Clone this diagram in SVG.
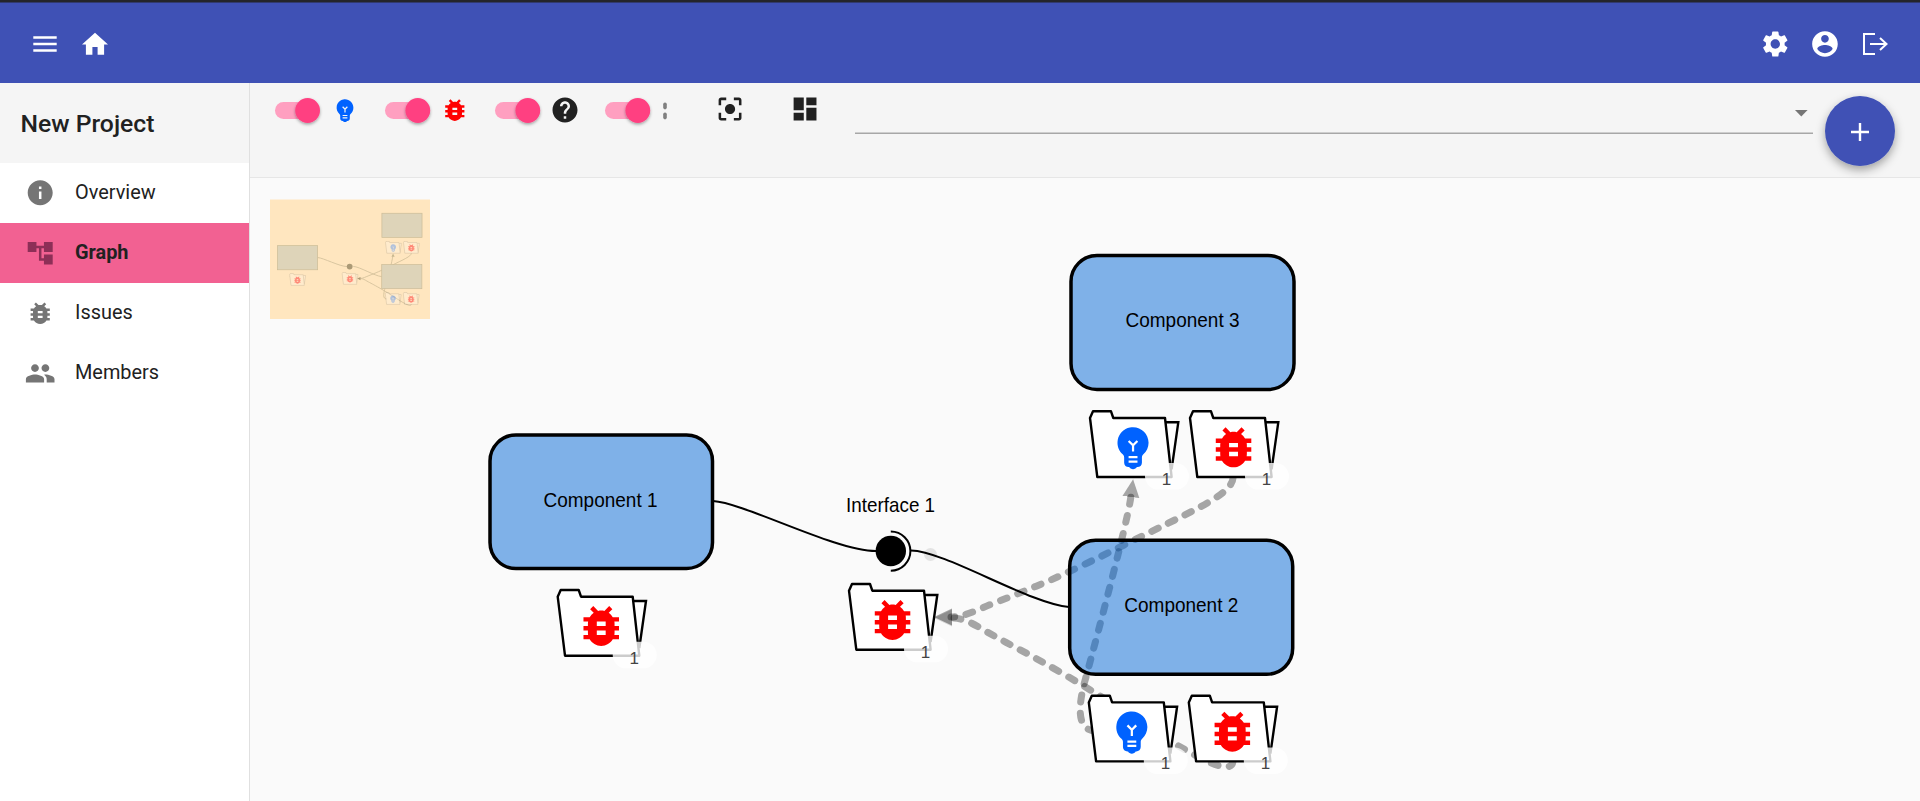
<svg xmlns="http://www.w3.org/2000/svg" xmlns:xlink="http://www.w3.org/1999/xlink" width="1920" height="801" viewBox="0 0 1920 801">
<style>
.nav{font-family:Roboto,"Liberation Sans",sans-serif;font-size:19.9px;fill:#212121}
.lbl{font-family:"Liberation Sans",Arial,sans-serif;font-size:21px;fill:#000;text-anchor:middle}
.cnt{font-family:"Liberation Sans",Arial,sans-serif;font-size:17px;fill:#444;text-anchor:middle}
.comp{fill:#0468d6;fill-opacity:.5;stroke:#000;stroke-width:3.5}
.wire{fill:none;stroke:#000;stroke-width:2}
.dash{fill:none;stroke:#000;stroke-opacity:.34;stroke-width:7;stroke-dasharray:7 11.5;stroke-linecap:round}
.track{fill:#ff9fc0}
.thumb{fill:#ff4081;filter:url(#sh)}
.gi{fill:#757575}
.wi{fill:#fff}
.ki{fill:#212121}
.badge{fill:#fff;fill-opacity:.8}
.mrect{fill:#ded4b9;stroke:#cdbd98;stroke-width:4}
.mwire{fill:none;stroke:#d5c29c;stroke-width:5}
</style>
<defs>
<filter id="sh" x="-50%" y="-50%" width="200%" height="200%"><feDropShadow dx="0" dy="1.5" stdDeviation="1.5" flood-color="#000" flood-opacity=".35"/></filter>
<filter id="fabsh" x="-30%" y="-30%" width="160%" height="160%"><feDropShadow dx="0" dy="4" stdDeviation="5" flood-color="#000" flood-opacity=".35"/></filter>
<filter id="mblur" x="-5%" y="-5%" width="110%" height="110%"><feGaussianBlur stdDeviation=".5"/></filter>
<marker id="arr" markerUnits="userSpaceOnUse" markerWidth="19" markerHeight="18" viewBox="0 0 19 18" refX="1" refY="9" orient="auto"><path d="M0 .5L18 9L0 17.5Z" fill="#000" fill-opacity=".34"/></marker>
<marker id="arr2" markerUnits="userSpaceOnUse" markerWidth="19" markerHeight="18" viewBox="0 0 19 18" refX="1" refY="9" orient="auto"><path d="M0 .5L18 9L0 17.5Z" fill="#000" fill-opacity=".14"/></marker>
<path id="bug" d="M20 8h-2.81c-.45-.78-1.07-1.45-1.82-1.96L17 4.41 15.59 3l-2.17 2.17C12.96 5.06 12.49 5 12 5c-.49 0-.96.06-1.41.17L8.41 3 7 4.41l1.62 1.63C7.88 6.55 7.26 7.22 6.81 8H4v2h2.09c-.05.33-.09.66-.09 1v1H4v2h2v1c0 .34.04.67.09 1H4v2h2.81c1.04 1.79 2.97 3 5.19 3s4.15-1.21 5.19-3H20v-2h-2.09c.05-.33.09-.66.09-1v-1h2v-2h-2v-1c0-.34-.04-.67-.09-1H20V8zm-6 8h-4v-2h4v2zm0-4h-4v-2h4v2z"/>
<path id="bulb" d="M12 3c-.46 0-.93.04-1.4.14-2.76.53-4.96 2.76-5.48 5.52-.48 2.61.48 5.01 2.22 6.56.43.38.66.91.66 1.47V19c0 1.1.9 2 2 2h.28c.35.6.98 1 1.72 1s1.38-.4 1.72-1H14c1.1 0 2-.9 2-2v-2.31c0-.55.22-1.09.64-1.46C18.09 13.95 19 12.08 19 10c0-3.87-3.13-7-7-7zm2 16h-4v-1h4v1zm0-2h-4v-1h4v1zm-1.5-5.59V14h-1v-2.59L9.67 9.59l.71-.71L12 10.5l1.62-1.62.71.71-1.83 1.82z"/>
<g id="frame">
<path d="M76 11H88.3L81.6 58" fill="#fff" stroke="#000" stroke-width="2.4"/>
<path d="M0 6.7L3 0H21L23.3 6.7H75L81.6 65.7H7.3Z" fill="#fff" stroke="#000" stroke-width="2.4" stroke-linejoin="round"/>
</g>
<g id="count"><rect class="badge" x="55" y="51.7" width="44" height="26.6" rx="13.3"/><text class="cnt" x="76.6" y="73.6">1</text></g>
<g id="fbug"><use href="#frame"/><use href="#bug" fill="#f00" transform="translate(16.9 9.4) scale(2.22)"/><use href="#count"/></g>
<g id="fbulb"><use href="#frame"/><use href="#bulb" fill="#0062ff" transform="translate(16.4 9.2) scale(2.22)"/><use href="#count"/></g>
<g id="mfbug"><use href="#frame" opacity=".2"/><use href="#bug" fill="#f00" opacity=".42" transform="translate(16.9 9.4) scale(2.22)"/></g>
<g id="mfbulb"><use href="#frame" opacity=".2"/><use href="#bulb" fill="#0062ff" opacity=".3" transform="translate(16.4 9.2) scale(2.22)"/></g>
</defs>

<rect width="1920" height="801" fill="#fafafa"/>

<g id="appbar">
<rect width="1920" height="83" fill="#3f51b5"/>
<rect width="1920" height="2.5" fill="#24252b"/>
<path class="wi" transform="translate(29.4 28.4) scale(1.3)" d="M3 18h18v-2H3v2zm0-5h18v-2H3v2zm0-7v2h18V6H3z"/>
<path class="wi" transform="translate(79.4 28.8) scale(1.3)" d="M10 20v-6h4v6h5v-8h3L12 3 2 12h3v8z"/>
<path class="wi" transform="translate(1759.7 28.4) scale(1.3)" d="M19.14 12.94c.04-.3.06-.61.06-.94 0-.32-.02-.64-.07-.94l2.03-1.58c.18-.14.23-.41.12-.61l-1.92-3.32c-.12-.22-.37-.29-.59-.22l-2.39.96c-.5-.38-1.03-.7-1.62-.94l-.36-2.54c-.04-.24-.24-.41-.48-.41h-3.84c-.24 0-.43.17-.47.41l-.36 2.54c-.59.24-1.13.57-1.62.94l-2.39-.96c-.22-.08-.47 0-.59.22L2.74 8.87c-.12.21-.08.47.12.61l2.03 1.58c-.05.3-.09.63-.09.94s.02.64.07.94l-2.03 1.58c-.18.14-.23.41-.12.61l1.92 3.32c.12.22.37.29.59.22l2.39-.96c.5.38 1.03.7 1.62.94l.36 2.54c.05.24.24.41.48.41h3.84c.24 0 .44-.17.47-.41l.36-2.54c.59-.24 1.13-.56 1.62-.94l2.39.96c.22.08.47 0 .59-.22l1.92-3.32c.12-.22.07-.47-.12-.61l-2.01-1.58zM12 15.6c-1.98 0-3.6-1.62-3.6-3.6s1.62-3.6 3.6-3.6 3.6 1.62 3.6 3.6-1.62 3.6-3.6 3.6z"/>
<path class="wi" transform="translate(1809.6 28.6) scale(1.28)" d="M12 2C6.48 2 2 6.48 2 12s4.48 10 10 10 10-4.48 10-10S17.52 2 12 2zm0 3c1.66 0 3 1.34 3 3s-1.34 3-3 3-3-1.34-3-3 1.34-3 3-3zm0 14.2c-2.5 0-4.71-1.28-6-3.22.03-1.99 4-3.08 6-3.08 1.99 0 5.97 1.09 6 3.08-1.29 1.94-3.5 3.22-6 3.22z"/>
<path d="M1875 34H1864V54H1875M1870 44H1886M1880 38L1886.5 44L1880 50" fill="none" stroke="#fff" stroke-width="2"/>
</g>

<g id="sidebar">
<rect x="0" y="83" width="249" height="718" fill="#fff"/>
<rect x="0" y="83" width="249" height="80" fill="#f5f5f5"/>
<rect x="249" y="83" width="1" height="718" fill="#e0e0e0"/>
<text x="20.5" y="131.5" font-family="Roboto,'Liberation Sans',sans-serif" font-size="24.7" font-weight="500" fill="#212121">New Project</text>
<rect x="0" y="223" width="249" height="60" fill="#f26192"/>
<path class="gi" transform="translate(25.2 177.7) scale(1.25)" d="M12 2C6.48 2 2 6.48 2 12s4.48 10 10 10 10-4.48 10-10S17.52 2 12 2zm1 15h-2v-6h2v6zm0-8h-2V7h2v2z"/>
<text class="nav" x="75" y="199">Overview</text>
<path fill="#8d2f57" transform="translate(25.2 238.3) scale(1.25)" d="M22 11V3h-7v3H9V3H2v8h7V8h2v10h4v3h7v-8h-7v3h-2V8h2v3z"/>
<text class="nav" x="75" y="258.8" font-weight="700">Graph</text>
<use href="#bug" class="gi" transform="translate(25.8 298.9) scale(1.2)"/>
<text class="nav" x="75" y="319">Issues</text>
<path class="gi" transform="translate(24.6 357.7) scale(1.3)" d="M16 11c1.66 0 2.99-1.34 2.99-3S17.66 5 16 5c-1.66 0-3 1.34-3 3s1.34 3 3 3zm-8 0c1.66 0 2.99-1.34 2.99-3S9.66 5 8 5C6.34 5 5 6.34 5 8s1.34 3 3 3zm0 2c-2.33 0-7 1.17-7 3.5V19h14v-2.5c0-2.33-4.67-3.5-7-3.5zm8 0c-.29 0-.62.02-.97.05 1.16.84 1.97 1.97 1.97 3.45V19h6v-2.5c0-2.33-4.67-3.5-7-3.5z"/>
<text class="nav" x="75" y="379">Members</text>
</g>

<g id="toolbar">
<rect x="250" y="83" width="1670" height="94" fill="#f5f5f5"/>
<rect x="250" y="177" width="1670" height="1" fill="#e6e6e6"/>
<rect class="track" x="275" y="102" width="40" height="17" rx="8.5"/><circle class="thumb" cx="307.6" cy="110.5" r="12.4"/>
<rect class="track" x="385" y="102" width="40" height="17" rx="8.5"/><circle class="thumb" cx="417.8" cy="110.5" r="12.4"/>
<rect class="track" x="495" y="102" width="40" height="17" rx="8.5"/><circle class="thumb" cx="527.8" cy="110.5" r="12.4"/>
<rect class="track" x="605" y="102" width="40" height="17" rx="8.5"/><circle class="thumb" cx="637.8" cy="110.5" r="12.4"/>
<use href="#bulb" fill="#0062ff" transform="translate(330.6 95.7) scale(1.2)"/>
<use href="#bug" fill="#f00" transform="translate(440.4 95.7) scale(1.2)"/>
<path fill="#212121" transform="translate(550 95) scale(1.25)" d="M12 2C6.48 2 2 6.48 2 12s4.48 10 10 10 10-4.48 10-10S17.52 2 12 2zm1 17h-2v-2h2v2zm2.07-7.75l-.9.92C13.45 12.9 13 13.5 13 15h-2v-.5c0-1.1.45-2.1 1.17-2.83l1.24-1.26c.37-.36.59-.86.59-1.41 0-1.1-.9-2-2-2s-2 .9-2 2H8c0-2.21 1.79-4 4-4s4 1.79 4 4c0 .88-.36 1.68-.93 2.25z"/>
<rect x="663.2" y="102.4" width="3.6" height="7" rx="1.8" fill="#808080"/>
<rect x="663.2" y="112.4" width="3.6" height="7" rx="1.8" fill="#808080"/>
<path class="ki" transform="translate(714.8 93.8) scale(1.27)" d="M12 8c-2.21 0-4 1.79-4 4s1.79 4 4 4 4-1.79 4-4-1.79-4-4-4zm-7 7H3v4c0 1.1.9 2 2 2h4v-2H5v-4zM5 5h4V3H5c-1.1 0-2 .9-2 2v4h2V5zm14-2h-4v2h4v4h2V5c0-1.1-.9-2-2-2zm0 16h-4v2h4c1.1 0 2-.9 2-2v-4h-2v4z"/>
<path class="ki" transform="translate(789.8 93.8) scale(1.27)" d="M3 13h8V3H3v10zm0 8h8v-6H3v6zm10 0h8V11h-8v10zm0-18v6h8V3h-8z"/>
<rect x="855" y="132.6" width="958" height="1.2" fill="#949494"/>
<path d="M1795 110H1807.6L1801.3 116.4Z" fill="#757575"/>
<circle cx="1860" cy="131" r="35" fill="#3f51b5" filter="url(#fabsh)"/>
<path d="M1851 132H1869M1860 123V141" stroke="#fff" stroke-width="2.4" fill="none"/>
</g>

<g id="minimap">
<rect x="270" y="199.5" width="160" height="119.5" fill="#ffe6bf"/>
<g filter="url(#mblur)" transform="translate(189.3 167.35) scale(.18)">
<path class="mwire" d="M713 501C745 503 835 551 876 551M911 550.5C945 551 1030 604 1069 607"/>
<path class="mwire" d="M1233 478C1232 495 1190 512 1124 545S1040 585 993.5 603.3C980 608.5 965 617 951 617M1233 761C1232 775 1205 762 1172 742C1130 715 1100 695 1060 672S1010 645 986.6 631.7C975 625 965 618 951 618M1095 731C1076 730 1078 705 1086 677C1100 625 1128 520 1131 490"/>
<rect class="mrect" x="490" y="435" width="223" height="134"/>
<rect class="mrect" x="1070" y="255" width="223" height="134"/>
<rect class="mrect" x="1069" y="540" width="223" height="134"/>
<circle cx="891" cy="551" r="16" fill="#ab9a76"/>
<path d="M933 618L951 609V627Z" fill="#ab9a76"/>
<path d="M1132 478L1123 496H1141Z" fill="#c9b891"/>
<use href="#mfbug" transform="translate(557.7 590)"/>
<use href="#mfbug" transform="translate(849 584)"/>
<use href="#mfbulb" transform="translate(1090 411.3)"/>
<use href="#mfbug" transform="translate(1190 411.3)"/>
<use href="#mfbulb" transform="translate(1088.8 695.7)"/>
<use href="#mfbug" transform="translate(1188.8 695.7)"/>
</g>
</g>

<g id="connectors">
<path class="wire" d="M713 501C745 503 835 551 876 551"/>
<path class="wire" d="M911 550.5C945 551 1030 604 1069 607"/>
<path class="dash" marker-end="url(#arr)" d="M1233 478C1232 495 1190 512 1124 545S1040 585 993.5 603.3C980 608.5 965 617 951 617"/>
<path class="dash" marker-end="url(#arr2)" d="M1233 761C1232 775 1205 762 1172 742C1130 715 1100 695 1060 672S1010 645 986.6 631.7C975 625 965 618 951 618"/>
<path class="dash" marker-end="url(#arr)" d="M1095 731C1076 730 1078 705 1086 677C1100 625 1128 520 1131 496"/>
</g>

<g id="component-1"><rect class="comp" x="490" y="435" width="222.5" height="133.5" rx="26"/><text class="lbl" x="600.5" y="507" textLength="114" lengthAdjust="spacingAndGlyphs">Component 1</text></g>
<g id="component-3"><rect class="comp" x="1071" y="255.5" width="223" height="134" rx="26"/><text class="lbl" x="1182.5" y="327" textLength="114" lengthAdjust="spacingAndGlyphs">Component 3</text></g>
<g id="component-2"><rect class="comp" x="1069.7" y="540.3" width="223" height="134" rx="26"/><text class="lbl" x="1181.3" y="612" textLength="114" lengthAdjust="spacingAndGlyphs">Component 2</text></g>

<g id="interface-1">
<circle cx="930.5" cy="554.5" r="6.5" fill="#000" fill-opacity=".09"/>
<circle cx="890.8" cy="551" r="15.2" fill="#000"/>
<path d="M890.8 531.5A19.6 19.6 0 0 1 890.8 570.7" fill="none" stroke="#000" stroke-width="2"/>
<text class="lbl" x="890.6" y="512" textLength="89" lengthAdjust="spacingAndGlyphs">Interface 1</text>
</g>

<use id="folder-c1-bug" href="#fbug" transform="translate(557.7 590)"/>
<use id="folder-if1-bug" href="#fbug" transform="translate(849 584)"/>
<use id="folder-c3-bulb" href="#fbulb" transform="translate(1090 411.3)"/>
<use id="folder-c3-bug" href="#fbug" transform="translate(1190 411.3)"/>
<use id="folder-c2-bulb" href="#fbulb" transform="translate(1088.8 695.7)"/>
<use id="folder-c2-bug" href="#fbug" transform="translate(1188.8 695.7)"/>
</svg>
